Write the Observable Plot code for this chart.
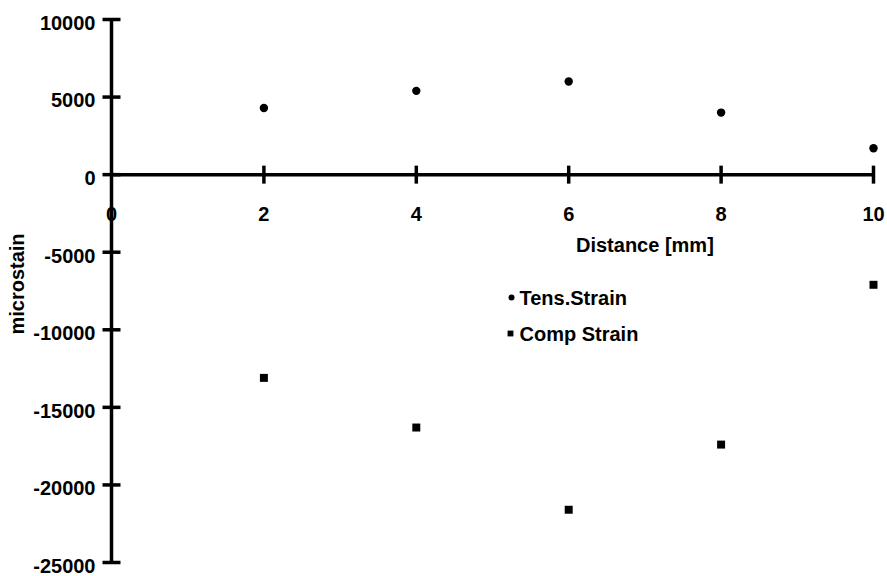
<!DOCTYPE html>
<html>
<head>
<meta charset="utf-8">
<script src="https://cdn.jsdelivr.net/npm/d3@7"></script>
<script src="https://cdn.jsdelivr.net/npm/@observablehq/plot@0.6"></script>
<style>
  body { margin: 0; background: #fff; }
</style>
</head>
<body>
<div id="chart"></div>
<script>
// Strain measured along the specimen, by distance from the edge
const distance = [2, 4, 6, 8, 10];
const tensStrain = [4300, 5400, 6000, 4000, 1700];
const compStrain = [-13100, -16300, -21600, -17400, -7100];

const xTicks = [0, 2, 4, 6, 8, 10];
const yTicks = [10000, 5000, 0, -5000, -10000, -15000, -20000, -25000];
const seriesNames = ["Tens.Strain", "Comp Strain"];
const xTitle = "Distance [mm]";
const yTitle = "microstain";

const tens = distance.map((d, i) => ({distance: d, strain: tensStrain[i]}));
const comp = distance.map((d, i) => ({distance: d, strain: compStrain[i]}));

// Cross-shaped tick marks drawn as custom dot symbols
const hLine = {draw(ctx, size) { const r = Math.sqrt(size / Math.PI); ctx.moveTo(-r, 0); ctx.lineTo(r, 0); }};
const vLine = {draw(ctx, size) { const r = Math.sqrt(size / Math.PI); ctx.moveTo(0, -r); ctx.lineTo(0, r); }};

const W = 887, H = 576;
const mTop = 19, mBottom = 14, mLeft = 111, mRight = 14;

const chart = Plot.plot({
  width: W,
  height: H,
  marginTop: mTop,
  marginBottom: mBottom,
  marginLeft: mLeft,
  marginRight: mRight,
  style: {fontFamily: "'Liberation Sans', Arial, sans-serif", fontSize: "20px", fontWeight: "bold", color: "#000", background: "#fff"},
  x: {domain: [0, 10], axis: null},
  y: {domain: [-25000, 10000]},
  marks: [
    // y tick labels
    Plot.axisY({ticks: yTicks, tickSize: 0, tickPadding: 16, dy: 4, tickFormat: d => String(d), label: null}),
    // axis lines
    Plot.ruleX([0], {stroke: "#000", strokeWidth: 3.5}),
    Plot.ruleY([0], {stroke: "#000", strokeWidth: 3.5}),
    // cross ticks
    Plot.dot(yTicks, {x: 0, y: d => d, symbol: hLine, r: 9, fill: "none", stroke: "#000", strokeWidth: 3.5}),
    Plot.dot(xTicks.filter(d => d > 0), {x: d => d, y: 0, symbol: vLine, r: 9, fill: "none", stroke: "#000", strokeWidth: 3.5}),
    // x tick labels, set below the zero line
    Plot.text(xTicks, {x: d => d, y: 0, dy: 40, text: d => String(d), fill: "#000"}),
    // axis titles
    Plot.text([xTitle], {x: 7, y: 0, dy: 71, text: d => d, fill: "#000"}),
    Plot.text([yTitle], {frameAnchor: "left", textAnchor: "middle", dx: 17 - mLeft, dy: -7, rotate: -90, text: d => d, fill: "#000"}),
    // data
    Plot.dot(tens, {x: "distance", y: "strain", r: 4.2, symbol: "circle", fill: "#000", stroke: "none"}),
    Plot.dot(comp, {x: "distance", y: "strain", r: 4.5, symbol: "square", fill: "#000", stroke: "none"}),
    // legend
    Plot.dot([0], {frameAnchor: "top-left", dx: 511 - mLeft, dy: 297 - mTop, r: 3, symbol: "circle", fill: "#000", stroke: "none"}),
    Plot.text([seriesNames[0]], {frameAnchor: "top-left", dx: 519 - mLeft, dy: 298 - mTop, textAnchor: "start", lineAnchor: "middle", text: d => d, fill: "#000"}),
    Plot.dot([0], {frameAnchor: "top-left", dx: 510 - mLeft, dy: 333 - mTop, r: 3.3, symbol: "square", fill: "#000", stroke: "none"}),
    Plot.text([seriesNames[1]], {frameAnchor: "top-left", dx: 519 - mLeft, dy: 334 - mTop, textAnchor: "start", lineAnchor: "middle", text: d => d, fill: "#000"})
  ]
});

document.getElementById("chart").appendChild(chart);
</script>
</body>
</html>
